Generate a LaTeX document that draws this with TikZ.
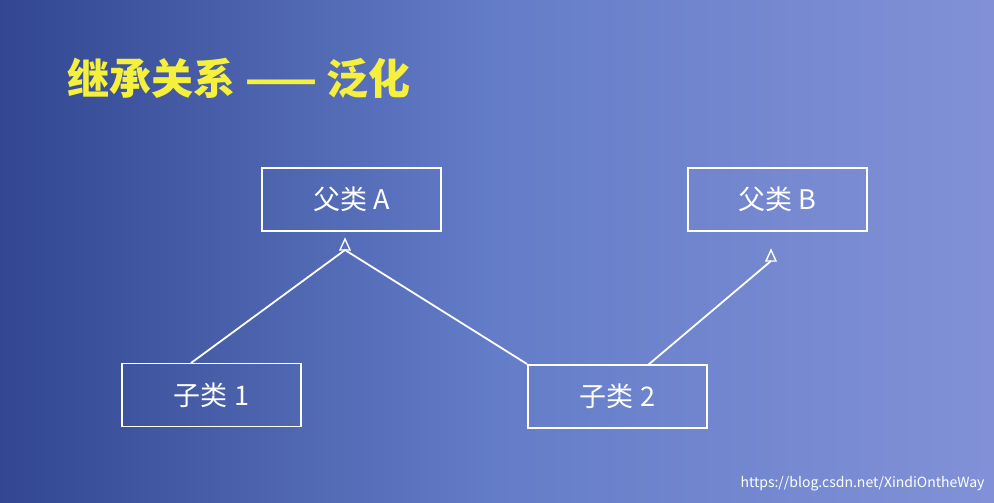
\documentclass[tikz,border=0pt]{standalone}
\usepackage{fontspec}
\setmainfont{Noto Sans CJK SC}
\usetikzlibrary{arrows.meta}
\begin{document}
\begin{tikzpicture}[x=1pt,y=-1pt,
  cls/.style={draw=white,line width=1.8pt,minimum width=179pt,minimum height=63pt,text=white,font=\fontsize{27}{30}\selectfont,inner sep=0pt},
  gen/.style={draw=white,line width=1.8pt},
  tri/.style={draw=white,line width=1.4pt}]
\useasboundingbox (0,0) rectangle (994,503);
\shade[left color={rgb,255:red,50;green,70;blue,145},right color={rgb,255:red,130;green,145;blue,215},middle color={rgb,255:red,100;green,125;blue,200}] (0,0) rectangle (994,503);
\node[anchor=west,text={rgb,255:red,245;green,240;blue,60},font=\fontsize{42}{44}\selectfont\bfseries] (title) at (64,78) {继承关系 —— 泛化};
\node[cls] (A) at (351.5,199.5) {父类 A};
\node[cls] (B) at (777.5,199.5) {父类 B};
\node[cls] (C1) at (211.5,395) {子类 1};
\node[cls] (C2) at (617.5,396.5) {子类 2};
\coordinate (c1t) at (191,363);
\coordinate (c2l) at (527,364);
\coordinate (c2t) at (648,365);
\coordinate (ab) at (345,250);
\coordinate (bb) at (771,261);
\draw[gen] (c1t) -- (ab) -- (c2l);
\draw[gen] (c2t) -- (bb);
\draw[tri] (340,250) -- (345,239) -- (350,250) -- cycle;
\draw[tri] (766,261) -- (771,250) -- (776,261) -- cycle;
\node[anchor=east,text=white,font=\fontsize{14}{16}\selectfont] (wm) at (988,484) {https://blog.csdn.net/XindiOntheWay};
\end{tikzpicture}
\end{document}
